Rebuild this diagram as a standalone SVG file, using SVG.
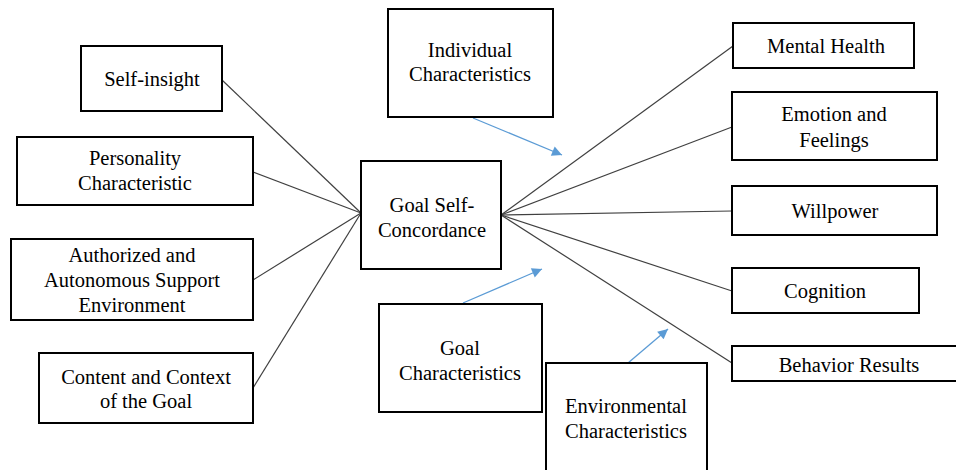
<svg xmlns="http://www.w3.org/2000/svg" width="956" height="470" viewBox="0 0 956 470">
<defs>
<marker id="ah" viewBox="0 0 10 10" refX="10" refY="5" markerWidth="13" markerHeight="10" markerUnits="userSpaceOnUse" orient="auto">
<path d="M0,0 L10,5 L0,10 Z" fill="#5B9BD5"/>
</marker>
<style>
rect{fill:#fff;stroke:#000;stroke-width:2}
text{font-family:"Liberation Serif","Times New Roman",serif;font-size:20.5px;fill:#000;text-anchor:middle}
.c line{stroke:#404040;stroke-width:1.2}
.b line{stroke:#5B9BD5;stroke-width:1.3;marker-end:url(#ah)}
</style>
</defs>
<rect x="0" y="0" width="956" height="470" style="fill:#fff;stroke:none"/>
<g class="c" id="connectors">
<line x1="222" y1="80" x2="361" y2="213"/>
<line x1="253" y1="172" x2="361" y2="213"/>
<line x1="253" y1="280" x2="361" y2="213"/>
<line x1="253" y1="388" x2="361" y2="213"/>
<line x1="501" y1="215" x2="733" y2="46"/>
<line x1="501" y1="215" x2="732" y2="127"/>
<line x1="501" y1="215" x2="732" y2="211"/>
<line x1="501" y1="215" x2="732" y2="291"/>
<line x1="501" y1="215" x2="732" y2="363"/>
</g>
<g class="b" id="arrows">
<line x1="473" y1="118" x2="562" y2="155"/>
<line x1="463" y1="303" x2="542" y2="269"/>
<line x1="628" y1="363" x2="668" y2="329"/>
</g>
<g id="self-insight"><rect x="81" y="46" width="141" height="65"/><text x="152" y="86">Self-insight</text></g>
<g id="personality"><rect x="17" y="137" width="236" height="68"/><text x="135" y="165">Personality</text><text x="135" y="190">Characteristic</text></g>
<g id="authorized"><rect x="11" y="239" width="242" height="81"/><text x="132" y="262">Authorized and</text><text x="132" y="287">Autonomous Support</text><text x="132" y="312">Environment</text></g>
<g id="content"><rect x="39" y="353" width="214" height="70"/><text x="146" y="384">Content and Context</text><text x="146" y="408">of the Goal</text></g>
<g id="goal-self-concordance"><rect x="361" y="161" width="140" height="108"/><text x="432" y="212">Goal Self-</text><text x="432" y="237">Concordance</text></g>
<g id="individual"><rect x="388" y="9" width="165" height="108"/><text x="470" y="57">Individual</text><text x="470" y="81">Characteristics</text></g>
<g id="goal-characteristics"><rect x="379" y="304" width="163" height="108"/><text x="460" y="355">Goal</text><text x="460" y="380">Characteristics</text></g>
<g id="environmental"><rect x="546" y="363" width="161" height="120"/><text x="626" y="413">Environmental</text><text x="626" y="438">Characteristics</text></g>
<g id="mental-health"><rect x="733" y="23" width="181" height="45"/><text x="826" y="53">Mental Health</text></g>
<g id="emotion"><rect x="732" y="92" width="205" height="68"/><text x="834" y="121">Emotion and</text><text x="834" y="147">Feelings</text></g>
<g id="willpower"><rect x="732" y="186" width="205" height="49"/><text x="835" y="218">Willpower</text></g>
<g id="cognition"><rect x="732" y="268" width="187" height="45"/><text x="825" y="298">Cognition</text></g>
<g id="behavior"><rect x="732" y="346" width="230" height="35"/><text x="849" y="372">Behavior Results</text></g>
</svg>
